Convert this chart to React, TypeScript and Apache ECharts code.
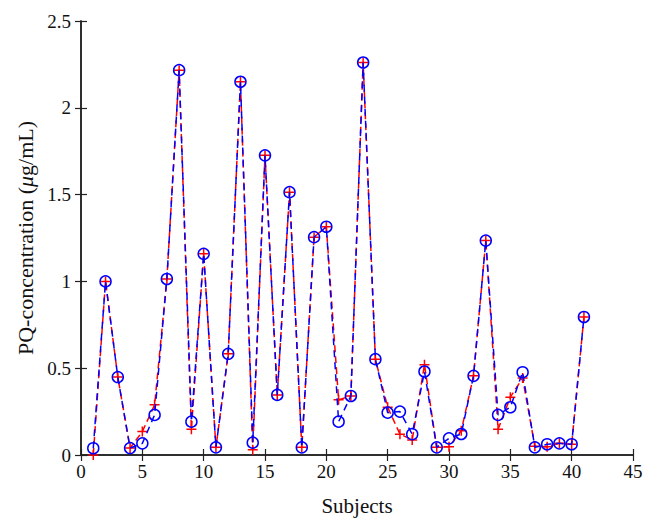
import React, { useEffect, useRef } from "react";
import * as echarts from "echarts";

const subjects = [
  1, 2, 3, 4, 5, 6, 7, 8, 9, 10, 11, 12, 13, 14, 15, 16, 17, 18, 19, 20, 21,
  22, 23, 24, 25, 26, 27, 28, 29, 30, 31, 32, 33, 34, 35, 36, 37, 38, 39, 40, 41,
];
// red "+" series
const redValues = [
  0.0, 1.0, 0.449, 0.04, 0.135, 0.289, 1.014, 2.217, 0.148, 1.159, 0.044, 0.583,
  2.15, 0.03, 1.726, 0.346, 1.514, 0.044, 1.255, 1.315, 0.318, 0.34, 2.261,
  0.552, 0.275, 0.12, 0.087, 0.52, 0.044, 0.048, 0.14, 0.456, 1.235, 0.148,
  0.333, 0.443, 0.05, 0.048, 0.067, 0.062, 0.795,
];
// blue "o" series
const blueValues = [
  0.039, 1.0, 0.449, 0.04, 0.067, 0.231, 1.014, 2.217, 0.192, 1.159, 0.044,
  0.583, 2.15, 0.071, 1.726, 0.346, 1.514, 0.044, 1.255, 1.315, 0.192, 0.34,
  2.261, 0.552, 0.244, 0.25, 0.12, 0.481, 0.044, 0.096, 0.121, 0.456, 1.235,
  0.231, 0.275, 0.477, 0.044, 0.062, 0.067, 0.062, 0.795,
];
const xTicks = { min: 0, max: 45, interval: 5 };
const yTicks = { min: 0, max: 2.5, interval: 0.5 };

const FONT = "Liberation Serif";
const AXIS_COLOR = "#222222";

export default function App() {
  const ref = useRef<HTMLDivElement>(null);
  useEffect(() => {
    document.body.style.margin = "0";
    const chart = echarts.init(ref.current!, null, { renderer: "svg" });
    const axisLine = { show: true, lineStyle: { color: AXIS_COLOR, width: 1.5 } };
    const axisTick = { show: true, inside: true, length: 6, lineStyle: { color: AXIS_COLOR, width: 1.2 } };
    const labelStyle = { color: "#111", fontFamily: FONT, fontSize: 19 };
    chart.setOption({
      animation: false,
      backgroundColor: "#fff",
      grid: { left: 81, right: 24, top: 21, bottom: 77, containLabel: false },
      xAxis: [
        {
          type: "value",
          position: "bottom",
          ...xTicks,
          axisLine,
          axisTick,
          splitLine: { show: false },
          axisLabel: { ...labelStyle, margin: 7 },
          name: "Subjects",
          nameLocation: "middle",
          nameGap: 40,
          nameTextStyle: { color: "#111", fontFamily: FONT, fontSize: 21 },
        },
        {
          type: "value",
          position: "top",
          ...xTicks,
          axisLine,
          axisTick,
          splitLine: { show: false },
          axisLabel: { show: false },
        },
      ],
      yAxis: [
        {
          type: "value",
          position: "left",
          ...yTicks,
          axisLine,
          axisTick,
          splitLine: { show: false },
          axisLabel: { ...labelStyle, margin: 10 },
          name: "PQ-concentration ({it|μ}g/mL)",
          nameLocation: "middle",
          nameGap: 43,
          nameTextStyle: {
            color: "#111",
            fontFamily: FONT,
            fontSize: 22,
            rich: { it: { fontStyle: "italic", fontFamily: FONT, fontSize: 22, color: "#111" } },
          },
        },
        {
          type: "value",
          position: "right",
          ...yTicks,
          axisLine,
          axisTick,
          splitLine: { show: false },
          axisLabel: { show: false },
        },
      ],
      series: [
        {
          type: "line",
          name: "red",
          data: subjects.map((s, i) => [s, redValues[i]]),
          lineStyle: { color: "#ff0000", width: 1.5, type: [7, 4] },
          symbol: "path://M0,-5 L0,5 M-5,0 L5,0",
          symbolSize: 10,
          showSymbol: true,
          itemStyle: { color: "none", borderColor: "#ff0000", borderWidth: 1.5 },
          z: 2,
        },
        {
          type: "line",
          name: "blue",
          data: subjects.map((s, i) => [s, blueValues[i]]),
          lineStyle: { color: "#0000ff", width: 1.5, type: [7, 5] },
          symbol: "circle",
          symbolSize: 11,
          showSymbol: true,
          itemStyle: { color: "none", borderColor: "#0000ff", borderWidth: 1.5 },
          z: 3,
        },
      ],
    });
    return () => chart.dispose();
  }, []);
  return <div ref={ref} style={{ width: 657, height: 532 }} />;
}
